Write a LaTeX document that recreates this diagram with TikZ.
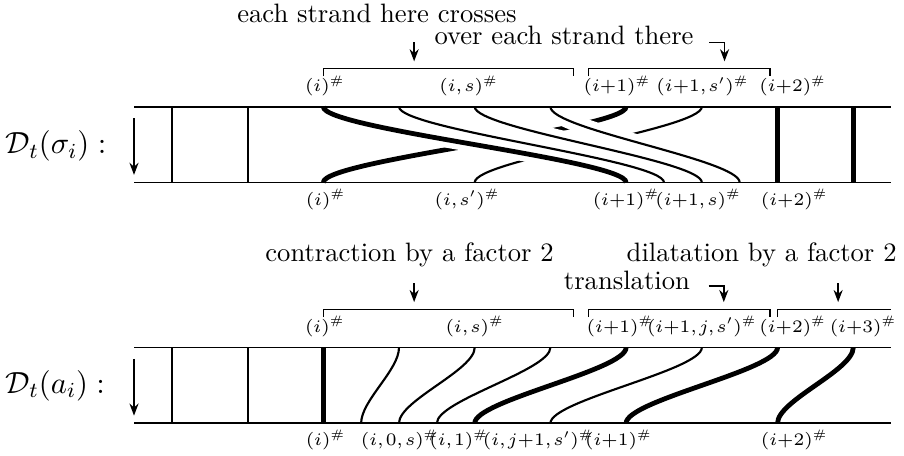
\documentclass[tikz,border=0pt]{standalone}
\usepackage{fix-cm}
\usetikzlibrary{arrows.meta}
\tikzset{
  rail/.style={line width=0.6pt},
  strand/.style={line width=0.8pt},
  fat/.style={line width=1.8pt},
  halo/.style={draw=white, line width=6pt},
  brk/.style={line width=0.4pt},
  arrow/.style={-{Stealth[length=1.6mm, width=1.2mm]}, line width=0.6pt},
  lab/.style={font=\fontsize{6.6}{8}\selectfont, anchor=base, inner sep=0pt},
  note/.style={anchor=base, inner sep=0pt},
  side/.style={font=\fontsize{11.5}{14}\selectfont, anchor=west, inner sep=0pt},
}

\begin{document}
\begin{tikzpicture}
  \useasboundingbox (-2.27,1.41) rectangle (9.67,-4.6);
  % ---------- top: D_t(sigma_i) ----------
  \node[side] (dsig) at (-2.2,-0.52) {$\mathcal{D}_t(\sigma_i):$};
  \coordinate (s0) at (-0.5,-0.15); \coordinate (s1) at (-0.5,-0.9);
  \draw[arrow] (s0) -- (s1);
  \foreach \x in {0,1} \draw[strand] (\x,0) -- (\x,-1);
  \foreach \x in {8,9} \draw[fat] (\x,0) -- (\x,-1);
  % under strands
  \draw[fat] (2,-1) .. controls +(0,0.3) and +(0,-0.3) .. (6,0);
  \draw[strand] (4,-1) .. controls +(0,0.3) and +(0,-0.3) .. (7,0);
  % over strands
  \foreach \a/\b in {2/6, 3/6.5, 4/7, 5/7.5}
    \draw[halo] (\a,0) .. controls +(0,-0.3) and +(0,0.3) .. (\b,-1);
  \foreach \a/\b/\w in {2/6/1.8, 3/6.5/0.8, 4/7/0.8, 5/7.5/0.8}
    \draw[line width=\w pt] (\a,0) .. controls +(0,-0.3) and +(0,0.3) .. (\b,-1);
  \draw[rail] (-0.5,0) -- (9.5,0);
  \draw[rail] (-0.5,-1) -- (9.5,-1);
  % brackets and notes
  \draw[brk] (2,0.4) |- (5.3,0.5) -- (5.3,0.4);
  \draw[brk] (5.5,0.4) |- (7.9,0.5) -- (7.9,0.4);
  \node[note] (here) at (2.71,1.11) {each strand here crosses};
  \node[note] (there) at (5.18,0.82) {over each strand there};
  \coordinate (h0) at (3.2,0.85); \coordinate (h1) at (3.2,0.6);
  \draw[arrow] (h0) -- (h1);
  \coordinate (t0) at (7.1,0.85); \coordinate (t1) at (7.3,0.6);
  \draw[arrow] (t0) -| (t1);
  \foreach \x/\t [count=\i] in {2.02/{(i)}, 3.92/{(i,s)}, 5.88/{(i{+}1)}, 7.01/{(i{+}1,s')}, 8.2/{(i{+}2)}}
    \node[lab] (su\i) at (\x,0.2) {$\thinmuskip=1.5mu\relax\t^\#$};
  \foreach \x/\t [count=\i] in {2.03/{(i)}, 3.9/{(i,s')}, 6.0/{(i{+}1)}, 6.95/{(i{+}1,s)}, 8.22/{(i{+}2)}}
    \node[lab] (sd\i) at (\x,-1.3) {$\thinmuskip=1.5mu\relax\t^\#$};
  % ---------- bottom: D_t(a_i) ----------
  \begin{scope}[yshift=-3.18cm]
    \node[side] (da) at (-2.2,-0.5) {$\mathcal{D}_t(a_i):$};
    \coordinate (a0) at (-0.5,-0.15); \coordinate (a1) at (-0.5,-0.9);
    \draw[arrow] (a0) -- (a1);
    \foreach \x in {0,1} \draw[strand] (\x,0) -- (\x,-1);
    \draw[fat] (2,0) -- (2,-1);
    \foreach \a/\b/\w in {3/2.5/0.8, 4/3/0.8, 5/3.5/0.8, 6/4/1.8, 7/5/0.8, 8/6/1.8, 9/8/1.8}
      \draw[line width=\w pt] (\a,0) .. controls +(0,-0.3) and +(0,0.3) .. (\b,-1);
    \draw[rail] (-0.5,0) -- (9.5,0);
    \draw[rail] (-0.5,-1) -- (9.5,-1);
    % brackets and notes
    \draw[brk] (2,0.4) |- (5.3,0.5) -- (5.3,0.4);
    \draw[brk] (5.5,0.4) |- (7.9,0.5) -- (7.9,0.4);
    \draw[brk] (8,0.4) |- (9.5,0.5);
    \node[note] (contr) at (3.14,1.14) {contraction by a factor 2};
    \node[note] (transl) at (6.01,0.77) {translation};
    \node[note] (dilat) at (7.79,1.14) {dilatation by a factor 2};
    \coordinate (c0) at (3.2,0.85); \coordinate (c1) at (3.2,0.6);
    \draw[arrow] (c0) -- (c1);
    \coordinate (r0) at (7.09,0.81); \coordinate (r1) at (7.29,0.6);
    \draw[arrow] (r0) -| (r1);
    \coordinate (d0) at (8.8,0.85); \coordinate (d1) at (8.8,0.6);
    \draw[arrow] (d0) -- (d1);
    \foreach \x/\t [count=\i] in {2.02/{(i)}, 4.0/{(i,s)}, 5.92/{(i{+}1)}, 7.0/{(i{+}1,j,s')}, 8.2/{(i{+}2)}, 9.13/{(i{+}3)}}
      \node[lab] (au\i) at (\x,0.2) {$\thinmuskip=1.5mu\relax\t^\#$};
    \foreach \x/\t [count=\i] in {2.03/{(i)}, 3.01/{(i,0,s)}, 3.79/{(i,1)}, 4.84/{(i,j{+}1,s')}, 5.9/{(i{+}1)}, 8.22/{(i{+}2)}}
      \node[lab] (ad\i) at (\x,-1.3) {$\thinmuskip=1.5mu\relax\t^\#$};
  \end{scope}
\end{tikzpicture}
\end{document}
